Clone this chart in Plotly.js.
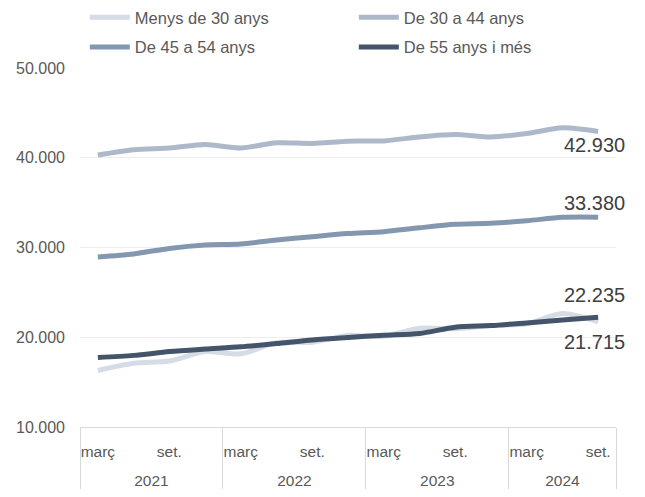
<!DOCTYPE html>
<html>
<head>
<meta charset="utf-8">
<script src="https://cdn.plot.ly/plotly-3.0.1.min.js"></script>
<style>html,body{margin:0;padding:0;background:#fff;}#chart{width:645px;height:497px;}</style>
</head>
<body>
<div id="chart"></div>
<script>
const years = ['2021','2021','2021','2021','2022','2022','2022','2022','2023','2023','2023','2023','2024','2024','2024'];
const months = ['març','juny','set.','des.','març','juny','set.','des.','març','juny','set.','des.','març','juny','set.'];
const shownMonths = ['març','set.'];
const seriesNames = ['Menys de 30 anys','De 30 a 44 anys','De 45 a 54 anys','De 55 anys i més'];
const menys30 = [16300, 17100, 17350, 18400, 18150, 19400, 19450, 20200, 20100, 21000, 20950, 21300, 21500, 22650, 21715];
const de30a44 = [40300, 40900, 41080, 41480, 41100, 41660, 41600, 41850, 41880, 42320, 42590, 42320, 42700, 43330, 42930];
const de45a54 = [28950, 29280, 29900, 30280, 30390, 30830, 31200, 31550, 31760, 32200, 32580, 32690, 32980, 33360, 33380];
const de55 = [17750, 17980, 18400, 18680, 18930, 19300, 19700, 19980, 20230, 20420, 21120, 21300, 21600, 21920, 22235];

const colors = ['#d6dce5','#adb9ca','#8497b0','#44546a'];
const allSeries = [menys30, de30a44, de45a54, de55];

// inner labels: months not shown get invisible (blank) labels, unique per month;
// the blank label is two lines tall so the year row sits lower, as in the reference
const NB = '\u00a0';
const hidden = {};
let hcount = 0;
const innerLabels = months.map(m => {
  if (shownMonths.includes(m)) return m;
  if (!(m in hidden)) { hcount++; hidden[m] = NB.repeat(hcount) + '<br>' + NB; }
  return hidden[m];
});
const xCats = [years, innerLabels];

function fmt(v){ return String(Math.round(v)).replace(/\B(?=(\d{3})+(?!\d))/g,'.'); }

const legendIds = ['legend','legend','legend2','legend2'];
const traces = allSeries.map((s,i)=>({
  type:'scatter', mode:'lines', name:seriesNames[i],
  x:xCats, y:s,
  line:{color:colors[i], width:5, shape:'spline', smoothing:0.8},
  legend: legendIds[i],
  hoverinfo:'skip'
}));

const last = years.length-1;
const lastX = [years[last], innerLabels[last]];
const labelShift = [-20, -14, 14, 22];
const annotations = allSeries.map((s,i)=>({
  x: lastX, y: s[last], xref:'x', yref:'y',
  text: fmt(s[last]), showarrow:false,
  xanchor:'center', yanchor:'middle', xshift:-4, yshift: labelShift[i],
  font:{family:'Liberation Sans, Arial, sans-serif', size:20, color:'#404040'}
}));

const legendFont = {family:'Liberation Sans, Arial, sans-serif', size:16.5, color:'#595959'};
const layout = {
  width:645, height:497,
  margin:{l:80, r:29, t:68, b:70},
  paper_bgcolor:'#fff', plot_bgcolor:'#fff',
  separators:',.',
  showlegend:true,
  legend:{orientation:'h', x:0.009, xanchor:'left', y:1.0, yref:'container', yanchor:'top',
    entrywidth:214, entrywidthmode:'pixels', font:legendFont, bgcolor:'rgba(0,0,0,0)', itemwidth:40},
  legend2:{orientation:'h', x:0.009, xanchor:'left', y:0.94, yref:'container', yanchor:'top',
    entrywidth:214, entrywidthmode:'pixels', font:legendFont, bgcolor:'rgba(0,0,0,0)', itemwidth:40},
  xaxis:{type:'multicategory', range:[-0.5, 14.5], autorange:false,
    showline:true, linecolor:'#d9d9d9', linewidth:1,
    showdividers:true, dividercolor:'#d9d9d9', dividerwidth:1,
    tickangle:0, ticklabelstandoff:10,
    tickfont:{family:'Liberation Sans, Arial, sans-serif', size:15.5, color:'#595959'},
    showgrid:false, zeroline:false, ticks:''},
  yaxis:{range:[10000,50000], dtick:10000, tickformat:',.0f',
    showgrid:true, gridcolor:'#ededed', gridwidth:1, zeroline:false, showline:false,
    ticklabelstandoff:14,
    tickfont:{family:'Liberation Sans, Arial, sans-serif', size:16, color:'#595959'}},
  annotations: annotations
};
Plotly.newPlot('chart', traces, layout, {displayModeBar:false, staticPlot:true});
</script>
</body>
</html>
